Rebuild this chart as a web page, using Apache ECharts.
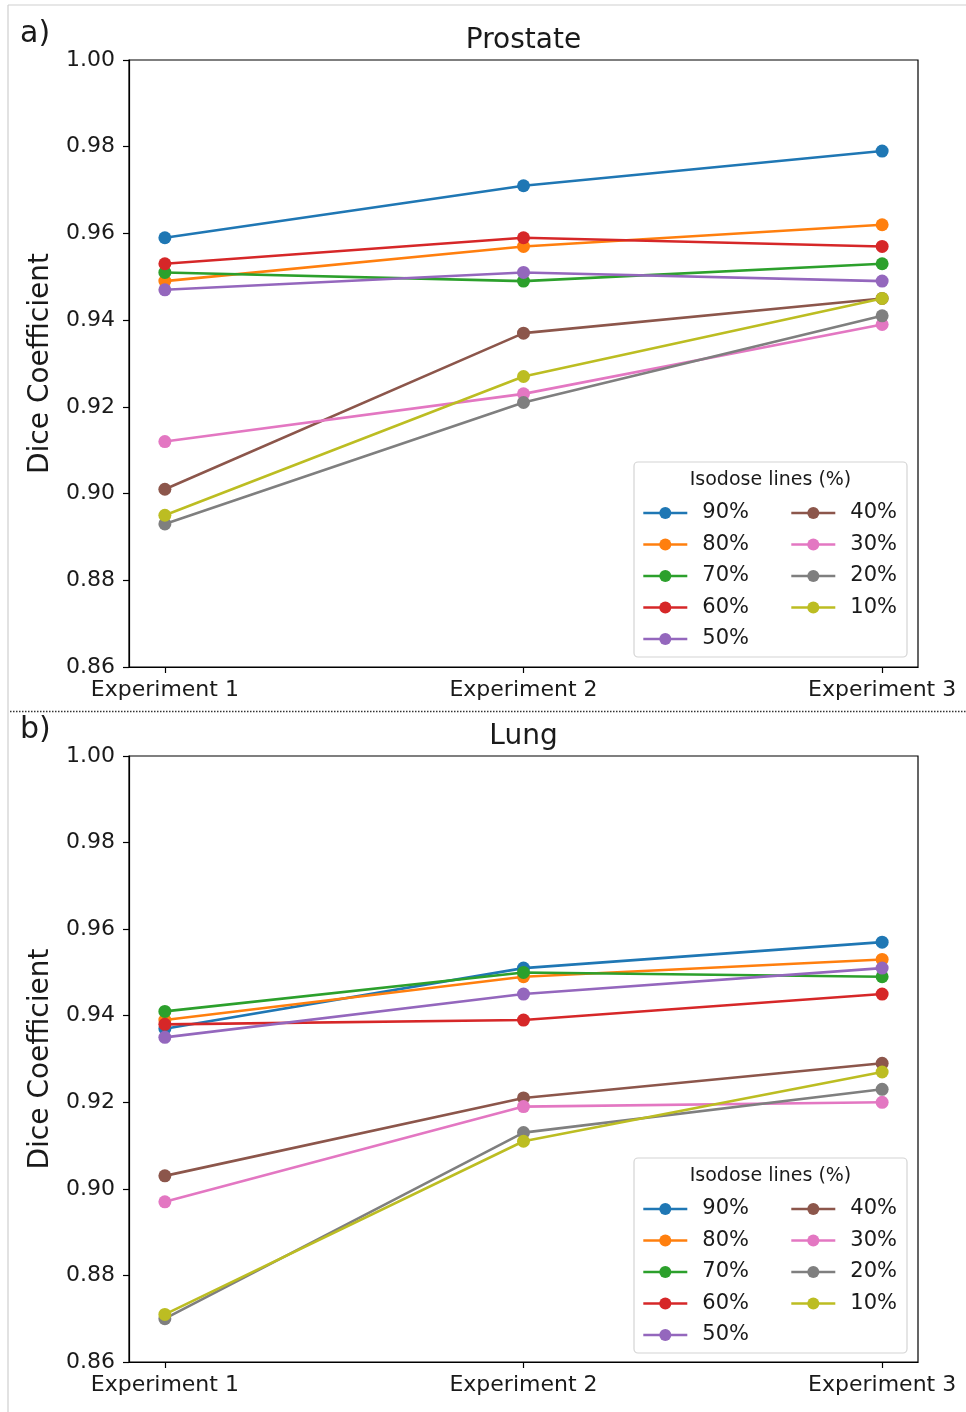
<!DOCTYPE html>
<html>
<head>
<meta charset="utf-8">
<script src="https://cdn.jsdelivr.net/npm/echarts@6/dist/echarts.min.js"></script>
<style>
html,body{margin:0;padding:0;background:#fff;}
#chart{width:966px;height:1412px;}
</style>
</head>
<body>
<div id="chart"></div>
<script>
// ---- data ----
const categories = ['Experiment 1', 'Experiment 2', 'Experiment 3'];
const levels = ['90%', '80%', '70%', '60%', '50%', '40%', '30%', '20%', '10%'];
const yTicks = [0.86, 0.88, 0.90, 0.92, 0.94, 0.96, 0.98, 1.00];

const prostate90 = [0.959, 0.971, 0.979];
const prostate80 = [0.949, 0.957, 0.962];
const prostate70 = [0.951, 0.949, 0.953];
const prostate60 = [0.953, 0.959, 0.957];
const prostate50 = [0.947, 0.951, 0.949];
const prostate40 = [0.901, 0.937, 0.945];
const prostate30 = [0.912, 0.923, 0.939];
const prostate20 = [0.893, 0.921, 0.941];
const prostate10 = [0.895, 0.927, 0.945];

const lung90 = [0.937, 0.951, 0.957];
const lung80 = [0.939, 0.949, 0.953];
const lung70 = [0.941, 0.950, 0.949];
const lung60 = [0.938, 0.939, 0.945];
const lung50 = [0.935, 0.945, 0.951];
const lung40 = [0.903, 0.921, 0.929];
const lung30 = [0.897, 0.919, 0.920];
const lung20 = [0.870, 0.913, 0.923];
const lung10 = [0.871, 0.911, 0.927];

const prostateSeries = [prostate90, prostate80, prostate70, prostate60, prostate50, prostate40, prostate30, prostate20, prostate10];
const lungSeries = [lung90, lung80, lung70, lung60, lung50, lung40, lung30, lung20, lung10];

// ---- styles ----
const palette = ['#1f77b4', '#ff7f0e', '#2ca02c', '#d62728', '#9467bd', '#8c564b', '#e377c2', '#7f7f7f', '#bcbd22'];
const FONT = 'DejaVu Sans';
const TXT = '#1a1a1a';

const panels = [
  { title: 'Prostate', tag: 'a)', top: 60, height: 607, values: prostateSeries },
  { title: 'Lung', tag: 'b)', top: 756, height: 606, values: lungSeries }
];
const gridLeft = 129, gridWidth = 789;

const chart = echarts.init(document.getElementById('chart'), null, { renderer: 'canvas' });

const grids = [], xAxes = [], yAxes = [], series = [], legends = [], graphics = [];

panels.forEach((p, pi) => {
  grids.push({ left: gridLeft, top: p.top, width: gridWidth, height: p.height, show: true,
    borderColor: '#000', borderWidth: 1.2, backgroundColor: 'transparent' });
  xAxes.push({
    type: 'value', gridIndex: pi, min: -0.1, max: 2.1,
    axisLine: { show: true, onZero: false, lineStyle: { color: '#000', width: 1.2 } },
    axisTick: { show: true, customValues: [0, 1, 2], length: 6, lineStyle: { color: '#000', width: 1.2 } },
    axisLabel: { show: true, customValues: [0, 1, 2], margin: 12, fontFamily: FONT, fontSize: 22, color: TXT,
      formatter: v => categories[Math.round(v)] },
    splitLine: { show: false }
  });
  yAxes.push({
    type: 'value', gridIndex: pi, min: 0.86, max: 1.00, interval: 0.02,
    name: 'Dice Coefficient', nameLocation: 'middle', nameGap: 73,
    nameTextStyle: { fontFamily: FONT, fontSize: 28, color: TXT },
    axisLine: { show: true, onZero: false, lineStyle: { color: '#000', width: 1.2 } },
    axisTick: { show: true, length: 6, lineStyle: { color: '#000', width: 1.2 } },
    axisLabel: { margin: 14, fontFamily: FONT, fontSize: 22, color: TXT, formatter: v => v.toFixed(2) },
    splitLine: { show: false }
  });
  p.values.forEach((vals, i) => {
    series.push({
      type: 'line', name: levels[i], xAxisIndex: pi, yAxisIndex: pi,
      data: vals.map((v, j) => [j, v]),
      color: palette[i],
      symbol: 'circle', symbolSize: 13, showSymbol: true,
      lineStyle: { width: 2.6, color: palette[i] },
      itemStyle: { color: palette[i] },
      emphasis: { disabled: true }, silent: true, z: 2 + i
    });
  });

  const off = p.top - 60;
  // legend box + title
  graphics.push({ type: 'rect', shape: { x: 634, y: 462 + off, width: 273, height: 195, r: 4 },
    style: { fill: 'rgba(255,255,255,0.85)', stroke: '#d4d4d4', lineWidth: 1.2 }, z: 10 });
  graphics.push({ type: 'text', x: 770.5, y: 480 + off, z: 11,
    style: { text: 'Isodose lines (%)', font: '19px "DejaVu Sans"', fill: TXT, textAlign: 'center', textVerticalAlign: 'middle' } });
  // title & tag
  graphics.push({ type: 'text', x: gridLeft + gridWidth / 2, y: 41 + off, z: 11,
    style: { text: p.title, font: '28px "DejaVu Sans"', fill: TXT, textAlign: 'center', textVerticalAlign: 'middle' } });
  graphics.push({ type: 'text', x: 20, y: 34 + off, z: 11,
    style: { text: p.tag, font: '30px "DejaVu Sans"', fill: TXT, textAlign: 'left', textVerticalAlign: 'middle' } });

  const legBase = {
    orient: 'vertical', selectedMode: false, itemWidth: 44, itemHeight: 15, itemGap: 9.5, padding: 0,
    lineStyle: { width: 2.6 },
    textStyle: { fontFamily: FONT, fontSize: 21, color: TXT, lineHeight: 22, padding: [0, 0, 0, 10] },
    z: 12
  };
  legends.push(Object.assign({}, legBase, { left: 642, top: 502 + off, data: levels.slice(0, 5) }));
  legends.push(Object.assign({}, legBase, { left: 790, top: 502 + off, data: levels.slice(5) }));
});

// frame lines
graphics.push({ type: 'line', shape: { x1: 8, y1: 5, x2: 966, y2: 5 }, style: { stroke: '#cfcfcf', lineWidth: 1.2 } });
graphics.push({ type: 'line', shape: { x1: 8, y1: 5, x2: 8, y2: 1412 }, style: { stroke: '#cfcfcf', lineWidth: 1.2 } });
graphics.push({ type: 'line', shape: { x1: 10, y1: 711.5, x2: 966, y2: 711.5 }, style: { stroke: '#333', lineWidth: 1.5, lineDash: [1.5, 1.5] } });

chart.setOption({
  animation: false,
  backgroundColor: '#fff',
  grid: grids, xAxis: xAxes, yAxis: yAxes, series: series, legend: legends,
  graphic: graphics
});
</script>
</body>
</html>
